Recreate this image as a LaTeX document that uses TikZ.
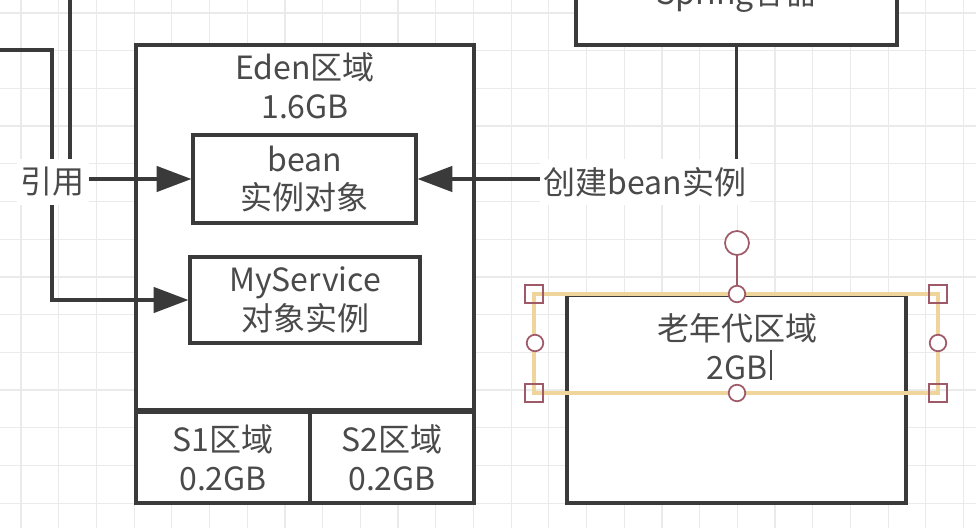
\documentclass[tikz,border=0pt]{standalone}
\usepackage{fontspec}
\setmainfont{Noto Sans CJK SC}
\usepackage{xcolor}
\usetikzlibrary{arrows.meta,positioning}

\definecolor{ink}{HTML}{3A3A3A}
\definecolor{txt}{HTML}{4A4A4A}
\definecolor{gridc}{HTML}{EAEAEA}
\definecolor{selc}{HTML}{EFD49C}
\definecolor{handc}{HTML}{9E5A68}

\begin{document}
\begin{tikzpicture}[
    x=0.75pt, y=-0.75pt,
    font=\fontsize{24}{29}\selectfont,
    box/.style={rectangle, draw=ink, line width=2.4pt, fill=white, inner sep=0pt, align=center, text=txt},
    lbl/.style={fill=white, text=txt, inner xsep=3pt, inner ysep=6pt, align=center},
    conn/.style={draw=ink, line width=2.4pt, -{Triangle[length=26pt, width=19pt]}},
    handle/.style={draw=handc, line width=1.3pt, fill=white}
]
\useasboundingbox (0,0) rectangle (976,528);

% grid
\foreach \gx in {0,...,25} \draw[gridc, line width=0.9pt] ({21+37.7*\gx},0) -- ({21+37.7*\gx},528);
\foreach \gy in {0,...,13} \draw[gridc, line width=0.9pt] (0,{13+37.7*\gy}) -- (976,{13+37.7*\gy});

% young generation
\node[box, minimum width=253.5pt, minimum height=273.75pt] (eden) at (305,227.5) {};
\node[text=txt, align=center] (edentxt) at (305,86) {Eden区域\\1.6GB};
\node[box, minimum width=130.5pt, minimum height=68.25pt] (s1) at (223,457.5) {S1区域\\0.2GB};
\node[box, minimum width=123pt, minimum height=68.25pt] (s2) at (392,457.5) {S2区域\\0.2GB};
\node[box, minimum width=167.25pt, minimum height=66pt] (bean) at (304.5,179) {bean\\实例对象};
\node[box, minimum width=172.5pt, minimum height=64.5pt] (mysvc) at (305,300) {MyService\\对象实例};

% spring container and old generation
\node[box, minimum width=240.75pt, minimum height=63.75pt] (spring) at (736.5,2.5) {};
\node[text=txt] (springtxt) at (737,-5) {Spring容器};
\node[box, minimum width=254.25pt, minimum height=156pt] (old) at (736.5,399) {};
\node[text=txt, align=center] (oldtxt) at (737,346.5) {老年代区域\\2GB};
\draw[txt, line width=1pt] (771,350) -- (771,380);

% connectors
\coordinate (reftop) at (70,-10);
\coordinate (refleft) at (-10,50);
\coordinate (refbend) at (52,50);
\draw[conn] (reftop) |- (bean.west);
\draw[conn] (refleft) -- (refbend) |- (mysvc.west);
\draw[conn] (spring.south) |- (bean.east);
\node[lbl] (yinyong) at (53,182) {引用};
\node[lbl] (create) at (645,182) {创建bean实例};

% selection of the old generation text
\draw[selc, line width=3pt] (534,294) rectangle (938,393);
\draw[handc, line width=1.3pt] (737,255) -- (737,286);
\draw[handle] (737,243) circle[radius=9pt];
\foreach \hx/\hy in {737/294, 737/393, 535/343, 938/343}
  \draw[handle] (\hx,\hy) circle[radius=6.2pt];
\foreach \hx/\hy in {534/294, 938/294, 534/393, 938/393}
  \draw[handc, line width=1.3pt] ({\hx-9},{\hy-9}) rectangle ({\hx+9},{\hy+9});
\end{tikzpicture}
\end{document}
